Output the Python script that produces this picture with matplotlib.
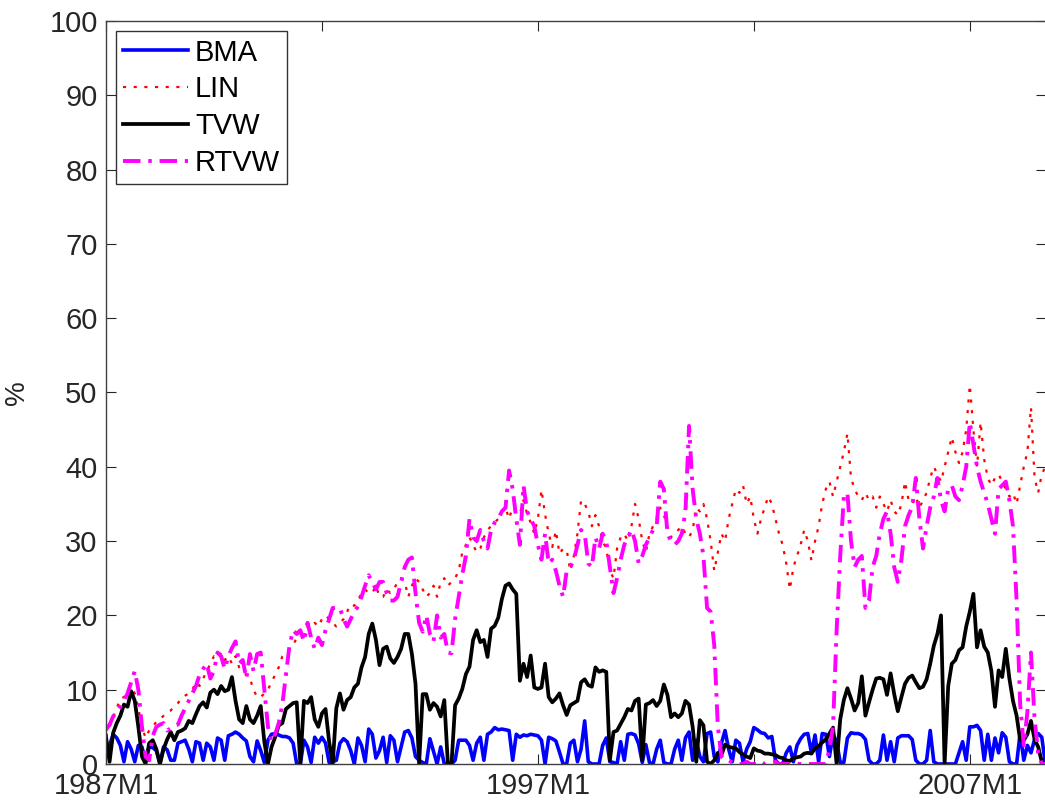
import numpy as np
import matplotlib
matplotlib.use('Agg')
import matplotlib.pyplot as plt

plt.rcParams['font.family'] = ['Liberation Sans', 'DejaVu Sans']

# monthly values (%), 1987M1 onwards
bma = [1.5, 2.5, 4.0, 3.5, 2.5, 0.3, 3.0, 2.0, 0.3, 2.5, 2.3, 0.3,
       2.3, 2.2, 1.8, 0.0, 2.3, 1.9, 0.5, 0.5, 2.8, 3.0, 3.2, 2.0,
       0.3, 3.0, 2.8, 0.5, 2.8, 2.3, 0.5, 3.5, 3.2, 0.5, 3.8, 4.0,
       4.3, 4.0, 3.5, 3.1, 1.0, 0.3, 3.1, 1.8, 0.2, 3.2, 4.0, 4.1,
       3.9, 3.7, 3.7, 3.5, 2.8, 0.0, 0.0, 3.2, 2.3, 0.2, 3.6, 2.8,
       3.6, 2.8, 0.2, 0.3, 0.5, 2.8, 3.4, 3.0, 1.8, 0.0, 3.5, 2.5,
       0.3, 4.7, 4.0, 0.8, 1.8, 3.6, 0.2, 3.8, 3.2, 0.3, 2.3, 4.3,
       4.5, 3.5, 1.0, 0.5, 0.2, 0.0, 3.4, 1.7, 0.0, 2.3, 0.0, 0.0,
       0.0, 0.5, 3.2, 3.2, 3.2, 2.5, 0.5, 2.8, 3.6, 0.5, 4.0, 4.3,
       4.9, 4.6, 4.7, 4.6, 4.5, 0.5, 4.0, 3.6, 3.9, 3.8, 4.0, 3.9,
       3.8, 3.2, 0.0, 3.6, 3.4, 3.1, 1.6, 0.0, 0.0, 2.8, 3.2, 0.3,
       2.0, 5.8, 0.3, 0.0, 0.0, 0.0, 2.5, 3.5, 0.3, 0.2, 0.0, 3.0,
       0.5, 4.0, 4.1, 3.9, 2.7, 0.2, 2.6, 0.2, 0.0, 2.0, 3.2, 0.2,
       0.0, 0.0, 2.0, 3.2, 0.5, 3.5, 4.3, 0.5, 3.2, 1.0, 0.3, 4.1,
       4.3, 1.0, 0.3, 2.8, 4.5, 2.0, 0.3, 3.2, 2.8, 0.3, 2.0, 3.0,
       4.9, 4.6, 4.2, 4.1, 3.5, 3.7, 0.5, 0.0, 0.0, 1.5, 2.3, 0.3,
       2.5, 3.4, 4.0, 4.1, 1.5, 3.9, 0.3, 4.1, 4.0, 1.0, 4.0, 3.0,
       0.2, 0.2, 3.5, 4.2, 4.1, 4.1, 3.9, 3.3, 0.5, 0.0, 0.0, 0.5,
       3.9, 0.5, 3.0, 0.3, 3.5, 3.8, 3.8, 3.8, 3.3, 0.5, 0.0, 0.0,
       0.5, 4.5, 0.3, 0.0, 0.0, 0.0, 0.0, 0.0, 0.0, 1.5, 3.0, 0.5,
       5.0, 5.0, 5.2, 4.5, 0.5, 4.0, 0.5, 3.5, 1.5, 4.2, 3.6, 0.3,
       0.0, 0.0, 4.2, 0.5, 2.5, 1.5, 3.3, 4.1, 3.6, 0.0]

lin = [3.7, 5.0, 6.3, 7.5, 8.8, 9.0, 10.0, 10.5, 9.5, 7.5, 5.0, 3.5,
       4.5, 5.0, 5.7, 6.0, 6.5, 7.0, 7.2, 7.8, 8.2, 8.8, 9.2, 9.5,
       10.0, 11.0, 10.5, 11.5, 12.5, 13.5, 14.5, 14.2, 15.0, 14.0, 14.5, 13.5,
       14.5, 13.0, 12.5, 12.0, 11.5, 10.0, 9.0, 9.0, 9.5, 10.0, 11.0, 12.0,
       13.0, 14.5, 15.0, 15.5, 16.0, 17.0, 18.0, 18.5, 18.5, 18.3, 19.0, 18.5,
       19.5, 20.0, 19.5, 19.0, 18.5, 19.0, 19.5, 20.5, 21.5, 21.3, 22.0, 23.0,
       23.5, 23.0, 23.0, 24.0, 22.5, 22.5, 23.5, 23.0, 23.5, 24.5, 25.0, 24.5,
       22.5, 24.0, 25.0, 24.5, 23.5, 22.5, 23.0, 24.0, 22.5, 24.5, 25.0, 24.0,
       24.5, 25.0, 26.0, 28.5, 29.5, 30.5, 29.5, 28.5, 29.0, 30.5, 31.5, 32.0,
       32.5, 33.0, 34.0, 34.5, 33.0, 34.6, 34.0, 33.7, 35.5, 33.7, 32.5, 31.0,
       33.0, 36.9, 33.6, 31.0, 29.2, 31.4, 28.3, 29.0, 28.8, 26.0, 28.0, 31.0,
       35.5, 35.0, 34.0, 32.0, 33.5, 32.0, 30.0, 29.0, 26.0, 25.0, 29.0, 30.5,
       31.0, 30.0, 32.0, 35.0, 33.0, 30.0, 28.5, 31.0, 32.0, 33.0, 34.5, 33.5,
       32.0, 30.5, 31.0, 31.5, 32.0, 31.0, 30.5, 31.5, 34.5, 34.0, 35.0, 33.0,
       30.0, 26.0, 28.5, 31.0, 30.0, 33.0, 35.0, 37.0, 36.5, 37.5, 35.0, 36.0,
       33.0, 31.0, 33.0, 34.5, 36.0, 35.0, 33.0, 31.0, 29.5, 27.0, 23.5, 26.5,
       28.0, 29.5, 31.5, 30.0, 27.4, 30.0, 32.0, 35.0, 37.0, 38.0, 36.0, 38.0,
       40.0, 42.0, 44.5, 38.5, 37.0, 36.0, 35.5, 36.5, 35.5, 36.0, 34.5, 36.0,
       35.0, 34.0, 35.5, 34.0, 33.5, 35.0, 38.0, 35.5, 35.0, 36.0, 34.5, 35.5,
       36.5, 38.5, 40.0, 39.0, 38.0, 40.0, 42.0, 44.0, 42.0, 40.5, 42.0, 45.0,
       51.0, 45.0, 40.0, 46.0, 41.0, 38.5, 37.5, 38.5, 39.0, 38.0, 37.0, 36.0,
       36.5, 35.0, 37.5, 40.0, 42.0, 48.0, 38.5, 36.5, 39.0, 40.0]

tvw = [3.7, 0.3, 4.2, 5.5, 6.5, 8.0, 7.7, 9.8, 8.5, 5.0, 1.0, 0.0,
       2.8, 3.2, 2.0, 0.0, 2.0, 3.3, 4.3, 3.2, 4.3, 4.5, 4.8, 5.8,
       5.5, 6.7, 7.8, 8.3, 7.6, 9.6, 10.0, 9.4, 10.5, 9.8, 10.0, 11.7,
       8.5, 6.0, 5.5, 7.8, 6.0, 5.5, 6.5, 7.8, 3.0, 0.0, 2.3, 3.6,
       5.2, 5.5, 7.4, 7.8, 8.2, 8.3, 0.0, 8.5, 8.2, 9.0, 6.0, 5.0,
       6.8, 7.4, 3.0, 0.0, 7.5, 9.5, 7.3, 8.6, 9.0, 10.3, 10.8, 13.0,
       14.4, 17.5, 18.9, 16.7, 13.3, 15.5, 15.8, 14.2, 13.6, 14.4, 15.5, 17.5,
       17.5, 14.8, 10.8, 0.0, 9.4, 9.4, 7.3, 8.2, 7.7, 6.4, 8.6, 0.0,
       0.0, 7.9, 8.8, 10.1, 12.1, 13.1, 16.7, 18.0, 16.4, 16.7, 14.4, 18.2,
       18.6, 19.7, 22.2, 24.0, 24.3, 23.5, 22.9, 11.2, 13.5, 11.7, 14.6, 10.3,
       10.1, 10.3, 13.5, 9.0, 8.3, 8.8, 9.5, 7.9, 6.6, 7.9, 8.2, 8.5,
       11.0, 11.4, 10.6, 10.4, 13.0, 12.4, 12.6, 12.4, 0.5, 4.3, 4.5, 5.4,
       6.3, 7.4, 7.2, 8.5, 8.8, 0.5, 8.0, 8.2, 8.6, 7.8, 8.5, 10.7,
       9.3, 6.3, 6.8, 6.3, 6.8, 8.5, 8.0, 5.0, 0.3, 5.9, 5.2, 0.3,
       0.0, 0.5, 1.5, 1.2, 2.6, 2.3, 2.2, 2.1, 1.6, 1.3, 1.0, 0.8,
       2.1, 1.8, 1.7, 1.4, 1.4, 1.3, 1.2, 0.9, 0.8, 0.5, 0.4, 0.8,
       0.9, 1.0, 1.4, 1.5, 1.4, 2.1, 2.4, 2.9, 3.3, 4.1, 4.9, 0.0,
       6.0, 8.6, 10.2, 8.8, 7.2, 8.2, 11.8, 6.5, 8.3, 10.0, 11.5, 11.6,
       11.4, 9.3, 12.2, 9.4, 7.1, 9.0, 10.8, 11.6, 11.9, 11.0, 10.2, 10.4,
       11.4, 13.5, 15.9, 17.5, 20.0, 0.0, 10.5, 13.5, 14.0, 15.3, 15.7, 18.5,
       20.5, 22.9, 15.7, 18.0, 15.8, 15.0, 12.5, 7.7, 12.6, 11.7, 15.5, 11.5,
       8.5, 6.5, 3.2, 3.2, 4.0, 5.8, 3.3, 2.3, 0.3, 0.0]

rtvw = [4.6, 5.3, 6.4, 7.0, 7.7, 8.5, 9.5, 11.0, 12.5, 10.0, 5.0, 1.0,
        0.5, 3.8, 5.0, 5.3, 5.5, 4.5, 4.8, 5.2, 5.3, 6.5, 7.5, 8.5,
        9.5, 10.5, 12.0, 12.8, 13.5, 11.5, 12.5, 15.0, 14.5, 12.8, 14.5, 15.6,
        16.5, 13.5, 14.0, 11.5, 14.8, 12.5, 14.8, 15.0, 10.0, 5.0, 3.0, 4.0,
        5.5, 8.0, 12.0, 16.0, 18.0, 17.5, 18.0, 16.5, 19.0, 17.0, 15.5, 17.0,
        16.0, 18.0, 19.5, 21.0, 21.0, 21.0, 19.5, 18.5, 19.5, 20.5, 21.2, 22.5,
        24.0, 25.4, 24.5, 23.5, 24.5, 24.5, 23.0, 22.0, 22.0, 22.5, 24.5, 26.5,
        27.5, 27.8, 23.0, 19.0, 17.8, 20.0, 17.5, 16.5, 20.0, 17.0, 17.5, 15.0,
        14.9, 19.5, 22.5, 25.5, 28.0, 33.0, 30.5, 30.0, 31.5, 30.0, 29.0, 31.5,
        32.5, 33.0, 34.0, 34.5, 39.5, 37.0, 33.0, 29.5, 37.5, 34.0, 33.0, 32.0,
        29.5, 27.5, 31.0, 27.0, 27.5, 26.0, 24.0, 22.5, 26.0, 26.5, 27.5, 29.5,
        31.5, 31.0, 27.0, 26.5, 30.5, 29.0, 31.0, 30.0, 26.5, 23.0, 25.0, 27.5,
        29.5, 30.5, 31.5, 30.0, 27.0, 28.0, 29.5, 30.5, 31.5, 32.0, 38.0, 37.0,
        31.0, 30.0, 29.5, 30.0, 31.0, 34.0, 45.5, 37.0, 33.0, 31.0, 28.0, 21.0,
        20.5, 16.0, 5.0, 1.0, 0.5, 0.5, 0.2, 0.0, 0.0, 0.0, 0.3, 0.0,
        0.0, 0.0, 0.3, 0.0, 0.3, 0.3, 0.3, 0.0, 0.0, 0.0, 0.0, 0.0,
        0.0, 0.0, 0.0, 0.0, 0.0, 0.0, 0.0, 0.0, 0.0, 2.0, 5.0, 18.0,
        28.0, 36.0, 36.5, 30.0, 26.5, 27.5, 28.0, 21.0, 22.0, 26.5, 28.0, 31.0,
        33.0, 34.0, 31.0, 26.5, 24.5, 27.5, 32.0, 33.5, 34.6, 38.5, 33.0, 29.0,
        32.0, 34.5, 36.0, 38.5, 35.5, 34.0, 37.0, 37.5, 36.0, 35.5, 37.5, 40.0,
        46.0, 43.0, 40.0, 38.0, 36.5, 35.0, 33.0, 31.0, 37.0, 37.5, 38.0, 35.5,
        32.0, 22.0, 8.0, 2.5, 7.0, 15.0, 6.0, 1.5, 0.0, 0.0]

tick_pos = [0, 60, 120, 180, 240]
tick_labels = ['1987M1', '', '1997M1', '', '2007M1']

fig = plt.figure(figsize=(10.45, 8.02), dpi=100)
ax = fig.add_axes([0.1014, 0.0474, 0.9, 0.9264])

ax.plot(np.arange(len(bma)), bma, color='blue', lw=2.6, label='BMA')
ax.plot(np.arange(len(lin)), lin, color='red', lw=1.6,
        linestyle=(0, (1.4, 3.4)), label='LIN')
ax.plot(np.arange(len(tvw)), tvw, color='black', lw=2.7, label='TVW')
ax.plot(np.arange(len(rtvw)), rtvw, color='magenta', lw=2.8,
        linestyle=(0, (4.5, 2.0, 0.9, 2.0)), label='RTVW')

ax.set_xlim(0, 261.3)
ax.set_ylim(0, 100)
ax.set_yticks(range(0, 101, 10))
ax.set_xticks(tick_pos)
ax.set_xticklabels(tick_labels)
ax.tick_params(direction='in', length=7.5, width=0.8, top=True, right=True,
               labelsize=21, colors='0.15')
ax.tick_params(axis='y', pad=6)
ax.tick_params(axis='x', pad=6)
for s in ax.spines.values():
    s.set_color('0.25')
    s.set_linewidth(1.0)
ax.set_ylabel('%', fontsize=20, labelpad=14, color='0.15')

leg = ax.legend(loc='upper left', fontsize=21, handlelength=2.2,
                handletextpad=0.25, labelspacing=0.3, borderpad=0.25,
                borderaxespad=0.35, fancybox=False, framealpha=1)
leg.get_frame().set_edgecolor('0.2')
leg.get_frame().set_linewidth(1.0)

fig.savefig('out.png', dpi=100)
